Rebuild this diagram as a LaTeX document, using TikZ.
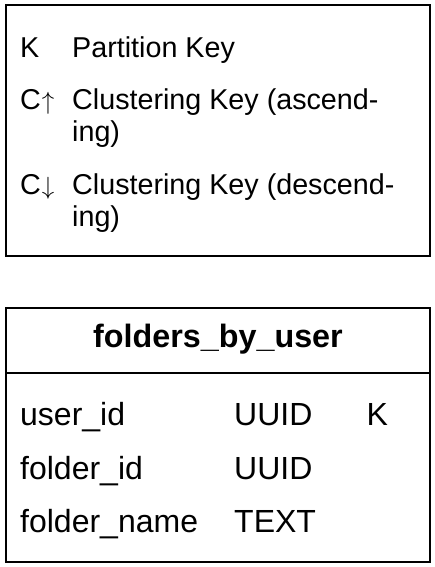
\documentclass[tikz,border=0pt]{standalone}
\usepackage{fontspec}
\setmainfont{Liberation Sans}
\begin{document}
\begin{tikzpicture}[x=1pt,y=-1pt,
  box/.style={draw, line width=1.3pt},
  legend/.style={anchor=base west, inner sep=0, font=\fontsize{28.7}{32}\selectfont},
  row/.style={anchor=base west, inner sep=0, font=\fontsize{32}{36}\selectfont},
  title/.style={anchor=base, inner sep=0, font=\fontsize{32.3}{36}\selectfont\bfseries}]
\useasboundingbox (0,0) rectangle (435,567);
% legend box
\draw[box] (6,5) rectangle (430,256);
\node[legend] (k) at (20,58) {K};
\node[legend] (kt) at (72,58) {Partition Key};
\node[legend] (ca) at (20,109.5) {C\kern1pt$\uparrow$};
\node[legend] (cat) at (72,109.5) {Clustering Key (ascend-};
\node[legend] (cat2) at (72,141.5) {ing)};
\node[legend] (cd) at (20,194) {C\kern1pt$\downarrow$};
\node[legend] (cdt) at (72,194) {Clustering Key (descend-};
\node[legend] (cdt2) at (72,226) {ing)};
% table
\draw[box] (6,308) rectangle (430,562);
\draw[line width=2pt] (6,373) -- (430,373);
\node[title] (tt) at (218,347) {folders\_by\_user};
\node[row] (r1a) at (20,425) {user\_id};
\node[row] (r1b) at (234,425) {UUID};
\node[row] (r1c) at (366.5,425) {K};
\node[row] (r2a) at (20,479) {folder\_id};
\node[row] (r2b) at (234,479) {UUID};
\node[row] (r3a) at (20,532) {folder\_name};
\node[row] (r3b) at (234,532) {TEXT};
\end{tikzpicture}
\end{document}
